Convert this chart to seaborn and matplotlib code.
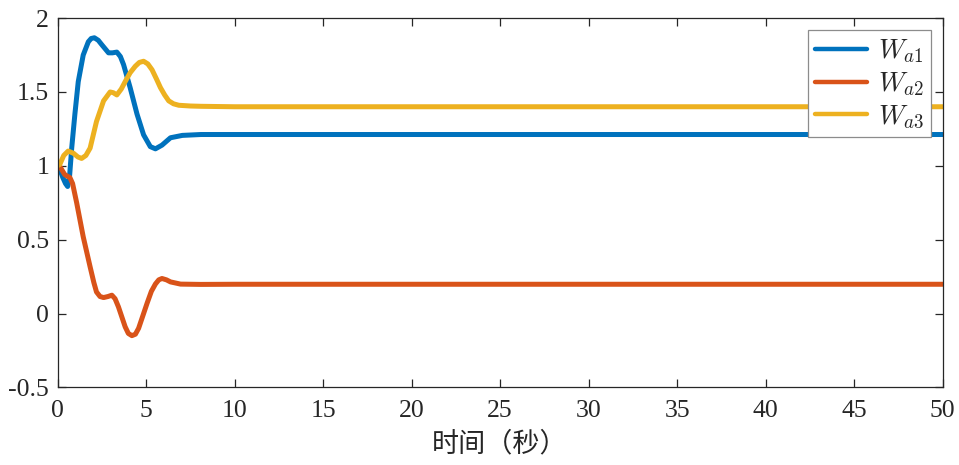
import numpy as np
import pandas as pd
import matplotlib
matplotlib.use("Agg")
import matplotlib.pyplot as plt
import seaborn as sns

# Response of the three weights over time
t_a1 = [0, 0.15, 0.3, 0.45, 0.57, 0.68, 0.8, 0.98, 1.17, 1.45, 1.74, 1.9, 2.08, 2.3, 2.5,
        2.88, 3.1, 3.35, 3.55, 3.73, 4.1, 4.49, 4.86, 5.24, 5.53, 5.9, 6.38, 7.05, 8.1, 10, 50]
w_a1 = [1.0, 0.97, 0.92, 0.88, 0.86, 0.93, 1.12, 1.35, 1.57, 1.75, 1.84, 1.862, 1.867, 1.85, 1.82,
        1.765, 1.765, 1.77, 1.74, 1.685, 1.53, 1.35, 1.21, 1.13, 1.115, 1.14, 1.19, 1.206, 1.212, 1.212, 1.212]

t_a2 = [0, 0.13, 0.41, 0.7, 0.85, 1.08, 1.45, 1.84, 2.05, 2.2, 2.4, 2.6, 2.85, 3.07, 3.25,
        3.44, 3.82, 4.0, 4.2, 4.4, 4.58, 5.06, 5.3, 5.53, 5.72, 5.9, 6.15, 6.38, 6.95, 8.1, 10, 50]
w_a2 = [1.0, 0.995, 0.94, 0.92, 0.88, 0.75, 0.52, 0.316, 0.21, 0.146, 0.115, 0.108, 0.115, 0.124, 0.10,
        0.045, -0.09, -0.135, -0.15, -0.14, -0.10, 0.07, 0.15, 0.20, 0.228, 0.237, 0.228, 0.214, 0.199, 0.197, 0.198, 0.198]

t_a3 = [0, 0.13, 0.35, 0.6, 0.9, 1.15, 1.36, 1.6, 1.84, 2.2, 2.6, 2.97, 3.15, 3.35, 3.6, 3.82,
        4.1, 4.39, 4.62, 4.86, 5.1, 5.34, 5.58, 5.81, 6.05, 6.28, 6.55, 6.85, 7.5, 8.1, 10, 50]
w_a3 = [1.0, 1.01, 1.07, 1.10, 1.085, 1.06, 1.05, 1.07, 1.12, 1.30, 1.44, 1.50, 1.495, 1.48, 1.52, 1.57,
        1.63, 1.674, 1.70, 1.708, 1.69, 1.65, 1.59, 1.53, 1.48, 1.44, 1.42, 1.41, 1.405, 1.403, 1.40, 1.40]

series_labels = [r"$W_{a1}$", r"$W_{a2}$", r"$W_{a3}$"]
series_colors = ["#0072BD", "#D95319", "#EDB120"]

x_ticks = [0, 5, 10, 15, 20, 25, 30, 35, 40, 45, 50]
y_ticks = [-0.5, 0, 0.5, 1, 1.5, 2]
y_tick_labels = ["-0.5", "0", "0.5", "1", "1.5", "2"]
x_label = "时间（秒）"

sns.set_style("ticks")
plt.rcParams["font.family"] = ["Liberation Serif", "Noto Sans CJK SC", "DejaVu Sans"]
plt.rcParams["mathtext.fontset"] = "cm"
plt.rcParams["xtick.direction"] = "in"
plt.rcParams["ytick.direction"] = "in"

fig = plt.figure(figsize=(9.59, 4.65), dpi=100)
ax = fig.add_axes([0.060, 0.167, 0.923, 0.794])

frames = []
for t, w, lab in zip([t_a1, t_a2, t_a3], [w_a1, w_a2, w_a3], series_labels):
    frames.append(pd.DataFrame({"t": t, "w": w, "series": lab}))
df = pd.concat(frames, ignore_index=True)

sns.lineplot(data=df, x="t", y="w", hue="series", palette=series_colors,
             linewidth=3.6, sort=False, estimator=None, ax=ax,
             solid_joinstyle="round", solid_capstyle="round")

ax.set_xlim(0, 50)
ax.set_ylim(-0.5, 2)
ax.set_xticks(x_ticks)
ax.set_yticks(y_ticks)
ax.set_yticklabels(y_tick_labels)
ax.tick_params(axis="both", which="both", direction="in", length=6, width=0.9,
               color="#262626", labelsize=18.5, labelcolor="#262626",
               top=True, right=True)
ax.tick_params(axis="x", pad=9)
ax.tick_params(axis="y", pad=6)
for s in ax.spines.values():
    s.set_visible(True)
    s.set_color("#262626")
    s.set_linewidth(0.9)

ax.set_xlabel(x_label, fontsize=19.5, family=["Noto Sans CJK SC"], color="#262626", labelpad=6)
ax.set_ylabel("")

leg = ax.legend(loc="upper right", fontsize=19.5, frameon=True, fancybox=False,
                framealpha=1, edgecolor="#8c8c8c", borderaxespad=0.45,
                handlelength=1.9, labelspacing=0.2, handletextpad=0.4,
                borderpad=0.25)
leg.get_frame().set_linewidth(0.9)
for h in leg.get_lines():
    h.set_linewidth(3.2)

fig.savefig("out.png", dpi=100)
